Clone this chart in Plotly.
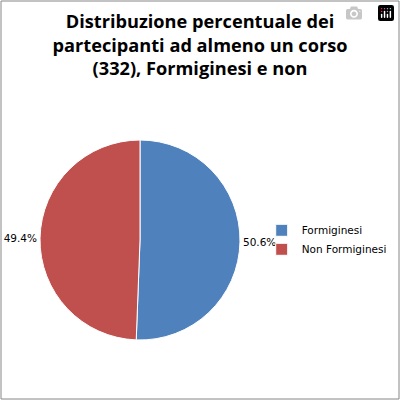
import plotly.graph_objects as go

# chart values
categories = ["Formiginesi", "Non Formiginesi"]
percentages = [50.6, 49.4]
slice_colors = ["#4F81BD", "#C0504D"]

fig = go.Figure(go.Pie(
    labels=categories,
    values=percentages,
    marker=dict(colors=slice_colors, line=dict(color="white", width=1)),
    sort=False,
    direction="clockwise",
    rotation=0,
    textposition="outside",
    texttemplate="%{value:.1f}%",
    textfont=dict(family="DejaVu Sans", size=10.5, color="black"),
    domain=dict(x=[0.098, 0.6005], y=[0.148, 0.651]),
    hoverinfo="label+percent",
))

fig.update_layout(
    width=400,
    height=400,
    # fixed margins: nothing may push the plot area around
    margin=dict(l=1, r=1, t=1, b=1, autoexpand=False),
    paper_bgcolor="white",
    title=dict(
        text="<b>Distribuzione percentuale dei<br>partecipanti ad almeno un corso<br>(332), Formiginesi e non</b>",
        font=dict(family="Open Sans", size=18.2, color="black"),
        x=0.5, xanchor="center",
        y=0.93, yanchor="top",
    ),
    # transparent legend so the 50.6% label between its rows stays visible
    legend=dict(
        x=0.655, y=0.4, xanchor="left", yanchor="middle",
        bgcolor="rgba(0,0,0,0)",
        font=dict(family="DejaVu Sans", size=10.5, color="black"),
        itemwidth=30,
    ),
    shapes=[dict(type="rect", xref="paper", yref="paper", x0=0, y0=0, x1=1, y1=1,
                 line=dict(color="#868686", width=1))],
)

# drop the page margin so the 400x400 figure fits the window exactly
fig.write_html("out.html", post_script="document.body.style.margin='0';document.body.style.overflow='hidden';")
